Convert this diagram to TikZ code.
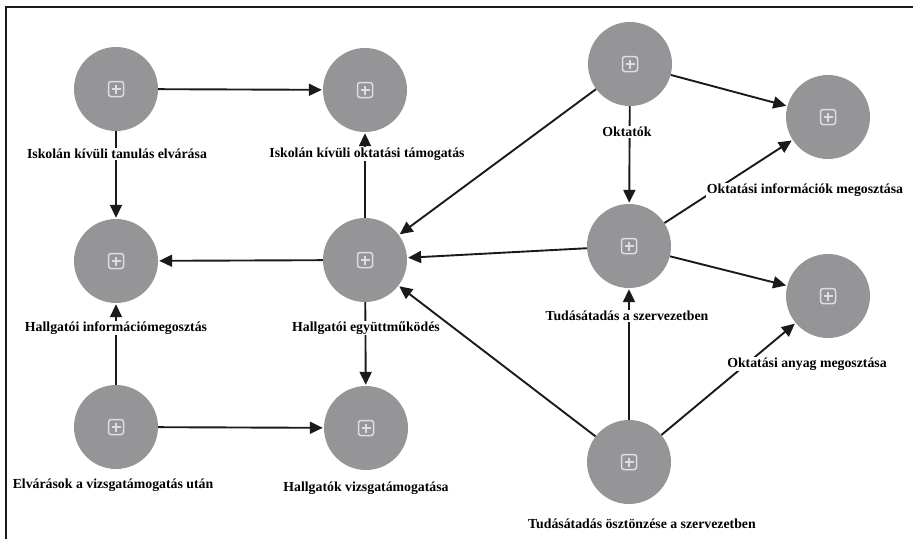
\documentclass[tikz,border=0pt]{standalone}
\usepackage{fontspec}
\setmainfont{Liberation Serif}
\usetikzlibrary{arrows.meta}
\definecolor{circgray}{RGB}{149,149,151}
\definecolor{icongray}{RGB}{222,222,224}
\definecolor{linecol}{RGB}{26,26,26}
\tikzset{
  concept/.style={circle, fill=circgray, minimum size=84pt, inner sep=0pt,
    path picture={
      \draw[icongray, line width=1.5pt, rounded corners=2.5pt, shift={(path picture bounding box.center)}]
        (-7.5,-7.5) rectangle (7.5,7.5);
      \draw[icongray, line width=1.5pt, shift={(path picture bounding box.center)}]
        (-4.5,0) -- (4.5,0) (0,-4.5) -- (0,4.5);
    }},
  lbl/.style={fill=white, inner sep=1pt, font=\fontsize{13.8}{15}\selectfont\bfseries},
  link/.style={draw=linecol, line width=1.9pt, -{Triangle[length=13pt,width=12pt]}, shorten >=1pt}
}
\begin{document}
\begin{tikzpicture}[x=1pt, y=-1pt]
\useasboundingbox (0,0) rectangle (913,539);
\draw[linecol, line width=1.3pt] (6,539) -- (6,7) -- (913,7);

\node[concept] (A) at (116,89) {};
\node[concept] (B) at (365,90) {};
\node[concept] (C) at (116,261) {};
\node[concept] (D) at (365,260) {};
\node[concept] (E) at (116,427) {};
\node[concept] (F) at (366,428) {};
\node[concept] (G) at (630,64) {};
\node[concept] (H) at (828,117) {};
\node[concept] (I) at (629,246) {};
\node[concept] (J) at (828,296) {};
\node[concept] (K) at (629,462) {};

\draw[link] (A) -- (B);
\draw[link] (A) -- (C);
\draw[link] (D) -- (B);
\draw[link] (D) -- (C);
\draw[link] (E) -- (C);
\draw[link] (E) -- (F);
\draw[link] (D) -- (F);
\draw[link] (G) -- (H);
\draw[link] (G) -- (I);
\draw[link] (G) -- (D);
\draw[link] (I) -- (H);
\draw[link] (I) -- (D);
\draw[link] (I) -- (J);
\draw[link] (K) -- (I);
\draw[link] (K) -- (D);
\draw[link] (K) -- (J);

\node[lbl] (lA) at (117,154) {Iskolán kívüli tanulás elvárása};
\node[lbl] (lB) at (367,154) {Iskolán kívüli oktatási támogatás};
\node[lbl] (lC) at (116,328) {Hallgatói információmegosztás};
\node[lbl] (lD) at (366,328) {Hallgatói együttműködés};
\node[lbl] (lE) at (113,485) {Elvárások a vizsgatámogatás után};
\node[lbl] (lF) at (366,488) {Hallgatók vizsgatámogatása};
\node[lbl] (lG) at (627,132) {Oktatók};
\node[lbl] (lH) at (805,190) {Oktatási információk megosztása};
\node[lbl] (lI) at (627,316) {Tudásátadás a szervezetben};
\node[lbl] (lJ) at (807,364) {Oktatási anyag megosztása};
\node[lbl] (lK) at (642,524) {Tudásátadás ösztönzése a szervezetben};
\end{tikzpicture}
\end{document}
